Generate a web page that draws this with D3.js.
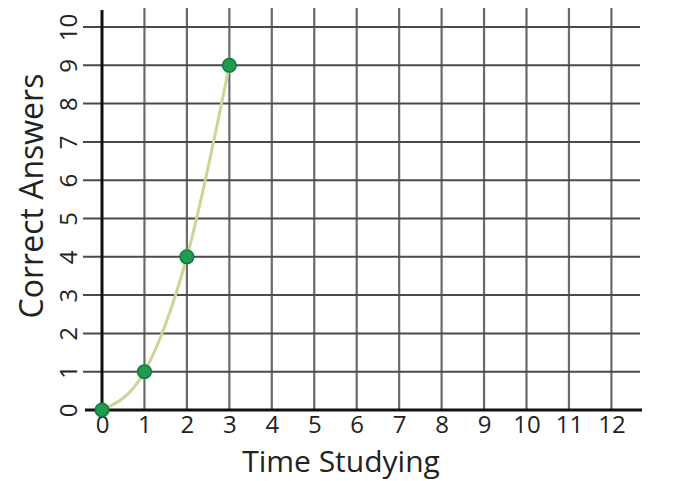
<!DOCTYPE html>
<html>
<head>
<meta charset="utf-8">
<script src="https://cdn.jsdelivr.net/npm/d3@7"></script>
<style>
  body { margin: 0; background: #fff; }
  svg { display: block; font-family: "Open Sans", sans-serif; }
</style>
</head>
<body>
<div id="chart"></div>
<script>
const xTicks = [0, 1, 2, 3, 4, 5, 6, 7, 8, 9, 10, 11, 12];
const yTicks = [0, 1, 2, 3, 4, 5, 6, 7, 8, 9, 10];
const timeStudying = [0, 1, 2, 3];
const correctAnswers = [0, 1, 4, 9];

const width = 688;
const height = 481;

const svg = d3.select("#chart").append("svg")
  .attr("width", width)
  .attr("height", height);

const x = d3.scaleLinear().domain([0, 12]).range([102, 611.4]);
const y = d3.scaleLinear().domain([0, 10]).range([410, 27]);

const gridLeft = 83;
const gridRight = 640;
const gridTop = 8;

// grid
svg.append("g")
  .selectAll("line")
  .data(xTicks.slice(1))
  .join("line")
  .attr("x1", (d) => x(d))
  .attr("x2", (d) => x(d))
  .attr("y1", gridTop)
  .attr("y2", y(0))
  .attr("stroke", "#6a6a6a")
  .attr("stroke-width", 2.2);

svg.append("g")
  .selectAll("line")
  .data(yTicks.slice(1))
  .join("line")
  .attr("x1", gridLeft)
  .attr("x2", gridRight)
  .attr("y1", (d) => y(d))
  .attr("y2", (d) => y(d))
  .attr("stroke", "#4a4a4a")
  .attr("stroke-width", 2);

// axes
const gx = svg.append("g")
  .attr("transform", `translate(0,${y(0)})`)
  .call(d3.axisBottom(x).tickValues(xTicks).tickSize(0).tickPadding(6));
gx.select(".domain").remove();
gx.selectAll("text")
  .attr("font-size", 24)
  .attr("font-family", "Open Sans, sans-serif")
  .attr("fill", "#222");

const gy = svg.append("g")
  .attr("transform", `translate(${x(0)},0)`)
  .call(d3.axisLeft(y).tickValues(yTicks).tickSize(0));
gy.select(".domain").remove();
gy.selectAll("text")
  .attr("font-size", 24)
  .attr("font-family", "Open Sans, sans-serif")
  .attr("fill", "#222")
  .attr("text-anchor", "middle")
  .attr("x", 0)
  .attr("dy", 0)
  .attr("transform", "translate(-35,0) rotate(-90)")
  .attr("dominant-baseline", "central");

svg.append("line")
  .attr("x1", gridLeft + 2).attr("x2", gridRight + 2)
  .attr("y1", y(0)).attr("y2", y(0))
  .attr("stroke", "#111").attr("stroke-width", 3);
svg.append("line")
  .attr("x1", x(0)).attr("x2", x(0))
  .attr("y1", gridTop + 2).attr("y2", y(0))
  .attr("stroke", "#111").attr("stroke-width", 3);

// axis titles
svg.append("text")
  .attr("x", 341)
  .attr("y", 472)
  .attr("text-anchor", "middle")
  .attr("font-size", 30)
  .attr("fill", "#222")
  .text("Time Studying");

svg.append("text")
  .attr("transform", "translate(43,196) rotate(-90)")
  .attr("text-anchor", "middle")
  .attr("font-size", 32)
  .attr("fill", "#222")
  .text("Correct Answers");

// curve + points
const points = timeStudying.map((t, i) => ({ t, c: correctAnswers[i] }));

svg.append("path")
  .datum(points)
  .attr("fill", "none")
  .attr("stroke", "#cad596")
  .attr("stroke-width", 3)
  .attr("d", d3.line().x((d) => x(d.t)).y((d) => y(d.c)).curve(d3.curveMonotoneX));

svg.append("g")
  .selectAll("circle")
  .data(points)
  .join("circle")
  .attr("cx", (d) => x(d.t))
  .attr("cy", (d) => y(d.c))
  .attr("r", 6.8)
  .attr("fill", "#1f9c52")
  .attr("stroke", "#127a3c")
  .attr("stroke-width", 1.5);
</script>
</body>
</html>
